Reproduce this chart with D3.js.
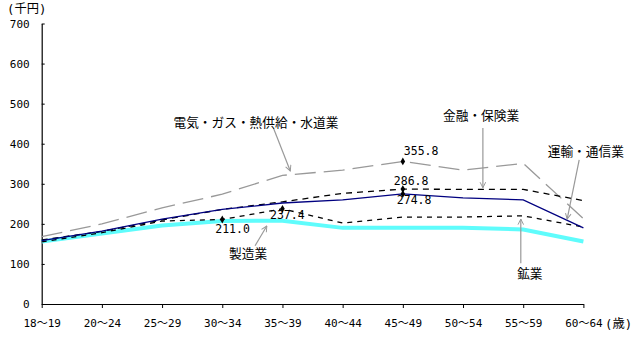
<!DOCTYPE html>
<html>
<head>
<meta charset="utf-8">
<script src="https://cdn.jsdelivr.net/npm/d3@7"></script>
<style>
  html, body { margin: 0; padding: 0; background: #fff; }
  svg { display: block; }
  .num { font-family: "DejaVu Sans Mono", "Noto Sans CJK JP", monospace; font-size: 11px; fill: #000; }
  .jp { font-family: "Noto Sans CJK JP", sans-serif; font-size: 12.7px; fill: #000; }
  .unit { font-family: "DejaVu Sans Mono", "Noto Sans CJK JP", monospace; font-size: 12.3px; fill: #000; }
</style>
</head>
<body>
<svg id="chart" width="640" height="337"></svg>
<script>
// Age groups (x categories)
const ages = ["18～19", "20～24", "25～29", "30～34", "35～39", "40～44", "45～49", "50～54", "55～59", "60～64"];
// Y axis ticks (thousand yen)
const yTicks = [0, 100, 200, 300, 400, 500, 600, 700];

// Monthly wages by industry (thousand yen)
const utilities     = [168, 200, 240, 274, 321, 334, 355.8, 334, 351, 213]; // 電気・ガス・熱供給・水道業
const finance       = [160, 181, 210, 236, 255, 276, 286.8, 286, 286, 258]; // 金融・保険業
const transport     = [158, 182, 212, 236, 252, 260, 274.8, 265, 260, 190]; // 運輸・通信業
const mining        = [155, 178, 207, 211.0, 237.4, 202, 217, 217, 220, 192]; // 鉱業
const manufacturing = [156, 176, 196, 207, 208, 190, 190, 190, 186, 156]; // 製造業

const svg = d3.select("#chart");

const x = d3.scalePoint().domain(ages).range([41.7, 583.4]);
const xi = d3.scaleLinear().domain([0, ages.length - 1]).range([41.7, 583.4]); // fractional category position
const y = d3.scaleLinear().domain([0, 700]).range([304, 23.5]);

// Axes
const gy = svg.append("g").attr("transform", `translate(${x(ages[0])},0)`)
  .call(d3.axisLeft(y).tickValues(yTicks).tickSizeInner(-3).tickSizeOuter(0).tickPadding(12));
gy.selectAll("text").attr("class", "num").attr("font-family", null).attr("font-size", null);
gy.select(".domain").attr("stroke", "#000").attr("stroke-width", 1.2);
gy.selectAll(".tick line").attr("stroke", "#000");

const gx = svg.append("g").attr("transform", `translate(0,${y(0)})`)
  .call(d3.axisBottom(x).tickSizeInner(4).tickSizeOuter(0).tickPadding(11));
gx.selectAll("text").attr("class", "num").attr("font-family", null).attr("font-size", null);
gx.select(".domain").attr("stroke", "#000").attr("stroke-width", 1.2);
gx.selectAll(".tick line").attr("stroke", "#000");

// Unit labels
svg.append("text").attr("class", "unit").attr("x", 7).attr("y", 9).attr("dy", "0.35em").text("(千円)");
svg.append("text").attr("class", "unit").attr("x", 605).attr("y", 323.7).attr("dy", "0.35em").text("(歳)");

// Series lines
const series = [
  { name: "製造業", values: manufacturing, color: "#5ffcfc", width: 4, dash: null },
  { name: "電気・ガス・熱供給・水道業", values: utilities, color: "#999", width: 1.3, dash: "21,8" },
  { name: "鉱業", values: mining, color: "#000", width: 1.3, dash: "5,5" },
  { name: "金融・保険業", values: finance, color: "#000", width: 1.3, dash: "6,5" },
  { name: "運輸・通信業", values: transport, color: "#000080", width: 1.3, dash: null }
];

const line = d3.line().x((d, i) => x(ages[i])).y(d => y(d));

svg.append("g").selectAll("path").data(series).join("path")
  .attr("d", s => line(s.values))
  .attr("fill", "none")
  .attr("stroke", s => s.color)
  .attr("stroke-width", s => s.width)
  .attr("stroke-dasharray", s => s.dash);

// Highlighted values with markers
const callouts = [
  { values: utilities, i: 6, dx: 1, dy: -10 },
  { values: finance, i: 6, dx: -9, dy: -8.5 },
  { values: transport, i: 6, dx: -6, dy: 6 },
  { values: mining, i: 3, dx: -7, dy: 10 },
  { values: mining, i: 4, dx: -12.5, dy: 6 }
];
const cg = svg.append("g");
callouts.forEach(c => {
  const px = x(ages[c.i]), py = y(c.values[c.i]);
  cg.append("path").attr("d", d3.symbol(d3.symbolDiamond, 18)())
    .attr("transform", `translate(${px},${py})`).attr("fill", "#000");
  cg.append("text").attr("class", "num").attr("x", px + c.dx).attr("y", py + c.dy)
    .attr("dy", "0.35em").style("font-size", "11.5px").text(c.values[c.i].toFixed(1));
});

// Industry labels with leader arrows (positions in category index / value space)
const defs = svg.append("defs");
defs.append("marker").attr("id", "arrow").attr("viewBox", "0 0 10 10")
  .attr("refX", 9).attr("refY", 5).attr("markerWidth", 7).attr("markerHeight", 7)
  .attr("orient", "auto").attr("markerUnits", "userSpaceOnUse")
  .append("path").attr("d", "M1,1 L9,5 L1,9").attr("fill", "none")
  .attr("stroke", "#999").attr("stroke-width", 1.4);

const notes = [
  { text: "電気・ガス・熱供給・水道業", tx: 3.56, tv: 452, from: [3.85, 439], to: [4.13, 332] },
  { text: "製造業", tx: 3.43, tv: 125, from: [3.545, 145.5], to: [3.74, 194.7] },
  { text: "金融・保険業", tx: 7.30, tv: 470, from: [7.33, 439], to: [7.33, 290] },
  { text: "運輸・通信業", tx: 9.04, tv: 380, from: [8.93, 359.5], to: [8.73, 212] },
  { text: "鉱業", tx: 8.11, tv: 76.6, from: [7.96, 102], to: [7.96, 212] }
];
const ng = svg.append("g");
notes.forEach(n => {
  ng.append("line")
    .attr("x1", xi(n.from[0])).attr("y1", y(n.from[1]))
    .attr("x2", xi(n.to[0])).attr("y2", y(n.to[1]))
    .attr("stroke", "#999").attr("stroke-width", 1.2)
    .attr("marker-end", "url(#arrow)");
  ng.append("text").attr("class", "jp").attr("x", xi(n.tx)).attr("y", y(n.tv))
    .attr("dy", "0.35em").attr("text-anchor", "middle").text(n.text);
});
</script>
</body>
</html>
